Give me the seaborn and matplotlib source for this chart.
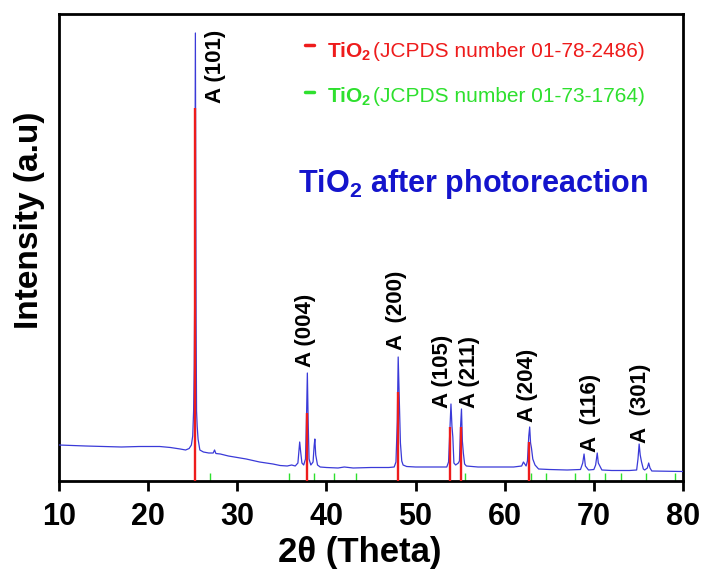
import matplotlib
matplotlib.use("Agg")
import matplotlib.pyplot as plt
from matplotlib.lines import Line2D
import seaborn as sns
import pandas as pd

# ── data ─────────────────────────────────────────────────────────
two_theta = [
    10.0, 11.5, 13.0, 15.0, 17.0, 19.0, 21.3, 22.5, 23.6, 24.2, 24.6, 24.85,
    25.0, 25.1, 25.17, 25.22, 25.27, 25.30, 25.34, 25.38, 25.43, 25.5, 25.6,
    25.8, 26.2, 26.8, 27.3, 27.45, 27.6, 28.1, 29.0, 30.0, 31.0, 32.5, 34.0,
    34.8, 35.6, 36.1, 36.5, 36.8, 37.0, 37.1, 37.25, 37.45, 37.65, 37.78,
    37.86, 37.95, 38.05, 38.25, 38.5, 38.62, 38.7, 38.8, 39.0, 39.3, 40.0,
    41.3, 42.0, 43.0, 45.0, 47.0, 47.6, 47.8, 47.95, 48.05, 48.15, 48.3,
    48.45, 48.6, 49.0, 50.0, 52.0, 53.5, 53.7, 53.85, 53.97, 54.08, 54.18,
    54.3, 54.5, 54.8, 54.92, 55.05, 55.15, 55.25, 55.36, 55.5, 55.7, 57.0,
    59.0, 61.0, 61.9, 62.1, 62.25, 62.4, 62.55, 62.7, 62.8, 62.9, 63.0,
    63.15, 63.4, 63.8, 65.0, 67.0, 68.5, 68.75, 68.9, 69.05, 69.4, 70.0,
    70.2, 70.38, 70.5, 70.9, 72.0, 74.0, 74.8, 74.95, 75.08, 75.2, 75.35,
    75.55, 75.7, 76.0, 76.15, 76.3, 76.5, 78.0, 80.0,
]
intensity = [
    36, 35.5, 35, 34.5, 34, 34.5, 34.5, 33.5, 32, 31, 32.5, 36,
    45, 70, 115, 180, 330, 448, 300, 160, 70, 55, 42,
    31, 29, 28, 28, 31, 27.5, 27, 25, 23.5, 22, 19, 17,
    15.5, 15, 16, 15, 18, 39, 30, 18, 16, 22, 70,
    108, 60, 22, 16, 19, 35, 42, 26, 16, 14, 13.5,
    13, 14, 13, 13.5, 13.5, 14, 19, 60, 124, 90, 38,
    20, 16, 14.5, 14, 14, 14, 19, 50, 77, 55, 44,
    18, 16, 18, 20, 55, 72, 40, 28, 17, 15, 14,
    14, 14, 15, 19, 17, 15, 20, 45, 54, 38, 33,
    22, 16, 12, 11.5, 11, 11.5, 18, 27, 15, 11, 11.5,
    16, 28, 18, 11, 10.5, 10.5, 11, 22, 37, 26, 19,
    12, 11, 13, 18, 13, 10, 9.8, 9.5,
]

# anatase reference (JCPDS 01-78-2486)
ref_red_pos = [25.27, 37.78, 48.02, 53.85, 55.05, 62.68]
ref_red_int = [373, 68, 89, 54, 54, 39]

# second reference (JCPDS 01-73-1764)
ref_green_pos = [26.95, 35.8, 38.55, 40.8, 43.3, 55.6, 62.95, 64.6, 67.9,
                 69.4, 71.3, 73.0, 75.9, 79.1]
ref_green_int = [8.5] * len(ref_green_pos)

peak_labels = ["A (101)", "A (004)", "A  (200)", "A (105)", "A (211)",
               "A (204)", "A  (116)", "A  (301)"]
label_x = [27.6, 37.7, 47.9, 52.97, 56.1, 62.5, 69.6, 75.2]
label_y = [378, 114, 131, 73, 73, 59, 29, 38]

df = pd.DataFrame({"two_theta": two_theta, "intensity": intensity})

# ── style ────────────────────────────────────────────────────────
sns.set_theme(style="white")
plt.rcParams["font.family"] = ["Liberation Sans", "DejaVu Sans"]
plt.rcParams["mathtext.fontset"] = "custom"
plt.rcParams["mathtext.rm"] = "Liberation Sans"
plt.rcParams["mathtext.bf"] = "Liberation Sans:bold"

RED = "#ee1c1c"
GREEN = "#2ee02e"
BLUE_TXT = "#1414cc"
BLUE_LINE = "#3a3ad8"

fig = plt.figure(figsize=(7.06, 5.76), dpi=100)
ax = fig.add_axes([59 / 706, 95 / 576, 624 / 706, 467 / 576])

ax.vlines(ref_green_pos, 0, ref_green_int, color=GREEN, lw=1.0, zorder=2)
sns.lineplot(data=df, x="two_theta", y="intensity", ax=ax, color=BLUE_LINE,
             lw=0.9, sort=False, estimator=None, zorder=3)
ax.vlines(ref_red_pos, 0, ref_red_int, color=RED, lw=1.7, zorder=4)

for txt, x, y in zip(peak_labels, label_x, label_y):
    ax.text(x, y, txt, rotation=90, ha="center", va="bottom",
            fontsize=16, fontweight="bold", color="black")

# legend-like labels
for y_dash, y_txt, col, num in [(0.934, 0.908, RED, "01-78-2486"),
                                (0.833, 0.8116, GREEN, "01-73-1764")]:
    ax.add_line(Line2D([0.394, 0.409], [y_dash, y_dash], transform=ax.transAxes,
                       color=col, lw=2.5))
    ax.text(0.4295, y_txt, r"TiO$_\mathbf{2}$", transform=ax.transAxes,
            fontsize=15, fontweight="bold", color=col, va="baseline")
    ax.text(0.504, y_txt, f"(JCPDS number {num})", transform=ax.transAxes,
            fontsize=15, color=col, va="baseline")

ax.text(0.383, 0.619, r"TiO$_\mathbf{2}$ after photoreaction",
        transform=ax.transAxes, fontsize=22, fontweight="bold",
        color=BLUE_TXT, va="baseline")

ax.set_xlim(10, 80)
ax.set_ylim(0, 467)
ax.set_xticks(range(10, 81, 10))
ax.set_yticks([])
ax.tick_params(axis="x", direction="out", length=7, width=2, pad=8,
               labelsize=22, bottom=True, color="black", labelcolor="black")
for lab in ax.get_xticklabels():
    lab.set_fontweight("bold")
for sp in ax.spines.values():
    sp.set_color("black")
    sp.set_linewidth(2)

ax.set_xlabel("2θ (Theta)", fontsize=25, fontweight="bold", color="black")
ax.set_ylabel("Intensity (a.u)", fontsize=24, fontweight="bold", color="black")
ax.xaxis.set_label_coords(0.482, -0.118)
ax.yaxis.set_label_coords(-0.022, 0.559)

fig.savefig("out.png", dpi=100)
